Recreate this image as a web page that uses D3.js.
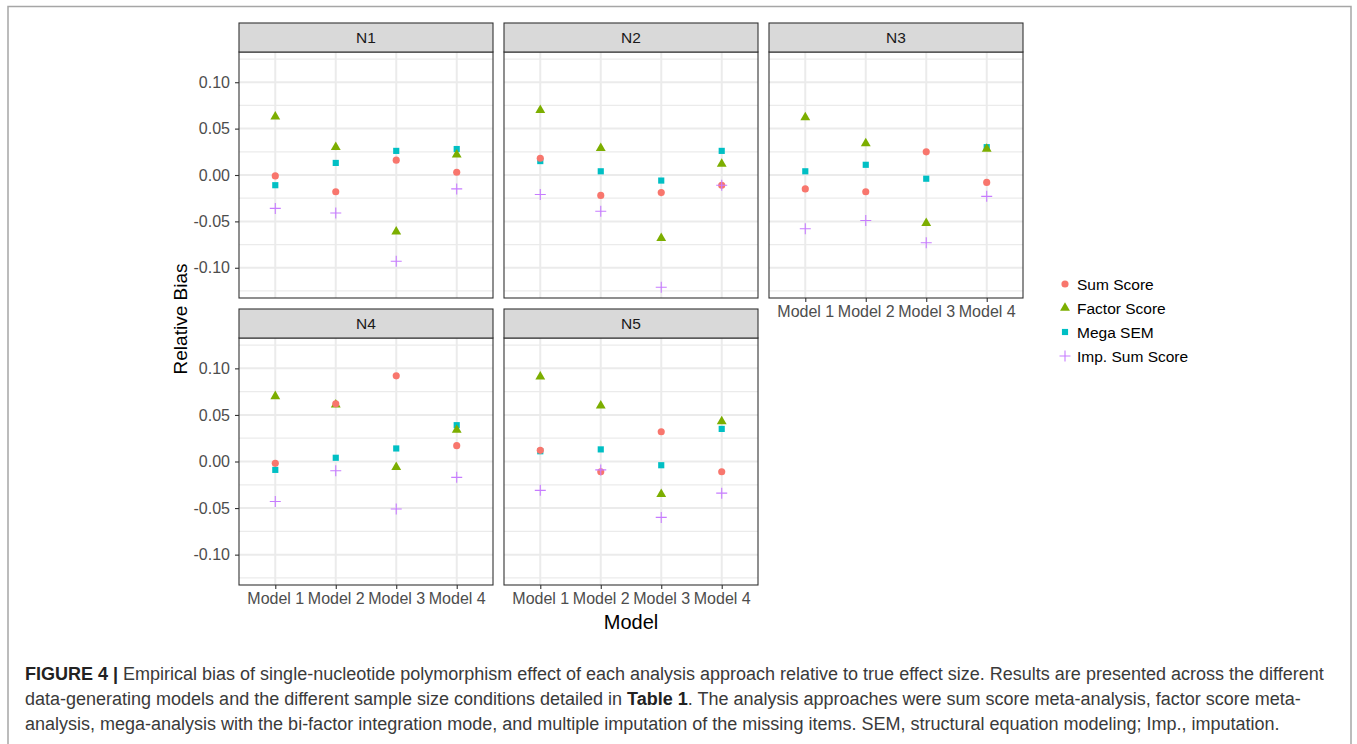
<!DOCTYPE html>
<html>
<head>
<meta charset="utf-8">
<script src="https://cdn.jsdelivr.net/npm/d3@7"></script>
<style>
  html, body { margin: 0; padding: 0; background: #fff; }
  svg { display: block; font-family: "Liberation Sans", Arial, Helvetica, sans-serif; }
</style>
</head>
<body>
<svg id="chart" width="1357" height="744"></svg>
<script>
// ---------- data ----------
const panels = ["N1", "N2", "N3", "N4", "N5"];
const models = ["Model 1", "Model 2", "Model 3", "Model 4"];
const methods = ["Sum Score", "Factor Score", "Mega SEM", "Imp. Sum Score"];
const methodColors = ["#F8766D", "#7CAE00", "#00BFC4", "#C77CFF"];
const yTicks = [-0.10, -0.05, 0.00, 0.05, 0.10];
const yMinor = [-0.125, -0.075, -0.025, 0.025, 0.075, 0.125];

// values per panel, per model (Model 1..4)
const sumScore = {
  N1: [-0.001, -0.018, 0.016, 0.003],
  N2: [0.018, -0.022, -0.019, -0.011],
  N3: [-0.015, -0.018, 0.025, -0.008],
  N4: [-0.002, 0.062, 0.092, 0.017],
  N5: [0.012, -0.011, 0.032, -0.011]
};
const factorScore = {
  N1: [0.063, 0.030, -0.061, 0.022],
  N2: [0.070, 0.029, -0.068, 0.012],
  N3: [0.062, 0.034, -0.052, 0.028],
  N4: [0.070, 0.061, -0.006, 0.034],
  N5: [0.091, 0.060, -0.035, 0.043]
};
const megaSEM = {
  N1: [-0.011, 0.013, 0.026, 0.028],
  N2: [0.015, 0.004, -0.006, 0.026],
  N3: [0.004, 0.011, -0.004, 0.030],
  N4: [-0.009, 0.004, 0.014, 0.039],
  N5: [0.011, 0.013, -0.004, 0.035]
};
const impSumScore = {
  N1: [-0.036, -0.041, -0.093, -0.015],
  N2: [-0.021, -0.039, -0.121, -0.011],
  N3: [-0.058, -0.049, -0.073, -0.023],
  N4: [-0.043, -0.010, -0.051, -0.017],
  N5: [-0.031, -0.009, -0.060, -0.034]
};
const seriesData = [sumScore, factorScore, megaSEM, impSumScore];
const drawOrder = [2, 1, 0, 3];

// ---------- layout ----------
const svg = d3.select("#chart");
const panelW = 254, gapX = 11;
const colX = [239, 239 + panelW + gapX, 239 + 2 * (panelW + gapX)];
const stripH = 29;
const rows = [{ stripTop: 23, top: 52, bottom: 298 }, { stripTop: 309, top: 338, bottom: 585 }];
const panelPos = [
  { col: 0, row: 0 }, { col: 1, row: 0 }, { col: 2, row: 0 },
  { col: 0, row: 1 }, { col: 1, row: 1 }
];

// outer figure frame
svg.append("rect").attr("x", 8).attr("y", 6.5).attr("width", 1343).attr("height", 800)
  .attr("fill", "none").attr("stroke", "#a6a6a6").attr("stroke-width", 1.5);

const gridColor = "#EBEBEB";

const sym = [
  d3.symbol().type(d3.symbolCircle).size(40),
  d3.symbol().type(d3.symbolTriangle).size(42),
  d3.symbol().type(d3.symbolSquare).size(38),
  null
];
function drawMark(g, mi, x, y) {
  if (mi === 3) {
    g.append("path").attr("d", `M${x - 5.5},${y}H${x + 5.5}M${x},${y - 5.5}V${y + 5.5}`)
      .attr("stroke", methodColors[mi]).attr("stroke-width", 1.1).attr("fill", "none");
  } else {
    g.append("path").attr("d", sym[mi]()).attr("transform", `translate(${x},${y})`)
      .attr("fill", methodColors[mi]);
  }
}

const fmt = d => d3.format(".2f")(d).replace("\u2212", "-");

panels.forEach((p, pi) => {
  const pos = panelPos[pi];
  const r = rows[pos.row];
  const x0 = colX[pos.col];
  const x = d3.scalePoint().domain(models).range([x0, x0 + panelW]).padding(0.6);
  const y = d3.scaleLinear().domain([-0.1326, 0.1326]).range([r.bottom, r.top]);
  const g = svg.append("g");

  g.append("rect").attr("x", x0).attr("y", r.top).attr("width", panelW).attr("height", r.bottom - r.top)
    .attr("fill", "#fff");
  g.selectAll(".mn").data(yMinor).enter().append("line")
    .attr("x1", x0).attr("x2", x0 + panelW).attr("y1", d => y(d)).attr("y2", d => y(d))
    .attr("stroke", gridColor).attr("stroke-width", 1.2);
  g.selectAll(".mj").data(yTicks).enter().append("line")
    .attr("x1", x0).attr("x2", x0 + panelW).attr("y1", d => y(d)).attr("y2", d => y(d))
    .attr("stroke", gridColor).attr("stroke-width", 2);
  g.selectAll(".vx").data(models).enter().append("line")
    .attr("x1", d => x(d)).attr("x2", d => x(d)).attr("y1", r.top).attr("y2", r.bottom)
    .attr("stroke", gridColor).attr("stroke-width", 2);

  drawOrder.forEach(mi => {
    const vals = seriesData[mi][p];
    models.forEach((m, k) => drawMark(g, mi, x(m), y(vals[k])));
  });

  g.append("rect").attr("x", x0).attr("y", r.top).attr("width", panelW).attr("height", r.bottom - r.top)
    .attr("fill", "none").attr("stroke", "#333333").attr("stroke-width", 1.1);
  g.append("rect").attr("x", x0).attr("y", r.stripTop).attr("width", panelW).attr("height", stripH)
    .attr("fill", "#D9D9D9").attr("stroke", "#333333").attr("stroke-width", 1.1);
  g.append("text").attr("x", x0 + panelW / 2).attr("y", r.stripTop + stripH / 2)
    .attr("text-anchor", "middle").attr("dominant-baseline", "central")
    .attr("font-size", 15.5).attr("fill", "#1A1A1A").text(p);

  if (pos.col === 0) {
    const ay = g.append("g").attr("transform", `translate(${x0},0)`)
      .call(d3.axisLeft(y).tickValues(yTicks).tickFormat(fmt).tickSize(4).tickPadding(5));
    ay.select(".domain").remove();
    ay.selectAll(".tick line").attr("stroke", "#333333").attr("stroke-width", 1.1);
    ay.selectAll(".tick text").attr("font-size", 16).attr("fill", "#4D4D4D")
      .attr("font-family", "Liberation Sans, Arial, sans-serif");
  }
  if (pos.row === 1 || p === "N3") {
    const ax = g.append("g").attr("transform", `translate(0,${r.bottom})`)
      .call(d3.axisBottom(x).tickSize(4).tickPadding(4));
    ax.select(".domain").remove();
    ax.selectAll(".tick line").attr("stroke", "#333333").attr("stroke-width", 1.1);
    ax.selectAll(".tick text").attr("font-size", 16).attr("fill", "#4D4D4D")
      .attr("font-family", "Liberation Sans, Arial, sans-serif");
  }
});

// axis titles
svg.append("text").attr("transform", `translate(180,${(rows[0].stripTop + rows[1].bottom) / 2 + 15}) rotate(-90)`)
  .attr("text-anchor", "middle").attr("dominant-baseline", "central")
  .attr("font-size", 19).attr("fill", "#000").text("Relative Bias");
svg.append("text").attr("x", colX[0] + (3 * panelW + 2 * gapX) / 2).attr("y", 622)
  .attr("text-anchor", "middle").attr("dominant-baseline", "central")
  .attr("font-size", 20).attr("fill", "#000").text("Model");

// legend
const leg = svg.append("g");
methods.forEach((m, i) => {
  const ly = 284 + i * 24;
  drawMark(leg, i, 1065, ly);
  leg.append("text").attr("x", 1077).attr("y", ly).attr("dominant-baseline", "central")
    .attr("font-size", 15.5).attr("fill", "#000").text(m);
});

// caption
const capLines = [
  [["FIGURE 4 | ", true], ["Empirical bias of single-nucleotide polymorphism effect of each analysis approach relative to true effect size. Results are presented across the different", false]],
  [["data-generating models and the different sample size conditions detailed in ", false], ["Table 1", true], [". The analysis approaches were sum score meta-analysis, factor score meta-", false]],
  [["analysis, mega-analysis with the bi-factor integration mode, and multiple imputation of the missing items. SEM, structural equation modeling; Imp., imputation.", false]]
];
const capY = [674, 699, 724];
capLines.forEach((parts, li) => {
  const t = svg.append("text").attr("x", 25).attr("y", capY[li]).attr("dominant-baseline", "central")
    .attr("font-size", 18).attr("fill", "#333333");
  parts.forEach(pt => {
    t.append("tspan").attr("font-weight", pt[1] ? "bold" : "normal")
      .attr("fill", pt[1] ? "#222" : "#3a3a3a").text(pt[0]);
  });
});
</script>
</body>
</html>
